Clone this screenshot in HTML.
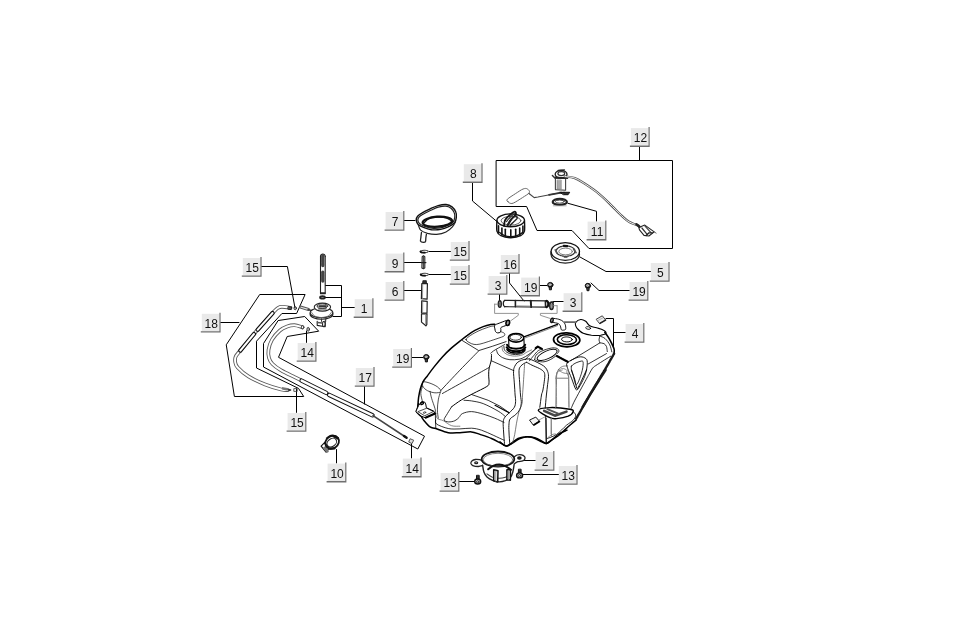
<!DOCTYPE html>
<html><head><meta charset="utf-8"><title>Fuel tank</title>
<style>
html,body{margin:0;padding:0;background:#fff}
body{width:974px;height:620px;overflow:hidden}
svg{display:block}
.lb{will-change:transform}
.n{font-family:"Liberation Sans",sans-serif;font-size:12px;text-anchor:middle;fill:#111}
path,ellipse{stroke-linejoin:round;stroke-linecap:round}
</style></head><body>
<svg width="974" height="620" viewBox="0 0 974 620">
<rect width="974" height="620" fill="#fff"/>
<path d="M261.6 266.5 L287.4 266.5 L295 308" fill="none" stroke="#000" stroke-width="1" stroke-linecap="butt" stroke-linejoin="miter"/>
<path d="M220.6 322.5 L239 322.5" fill="none" stroke="#000" stroke-width="1" stroke-linecap="butt" stroke-linejoin="miter"/>
<path d="M325.4 285.5 L341.5 285.5 L341.5 316.5 L333 316.5" fill="none" stroke="#000" stroke-width="1" stroke-linecap="butt" stroke-linejoin="miter"/>
<path d="M325.4 297.5 L341.4 297.5" fill="none" stroke="#000" stroke-width="1" stroke-linecap="butt" stroke-linejoin="miter"/>
<path d="M341.4 307.5 L354.5 307.5" fill="none" stroke="#000" stroke-width="1" stroke-linecap="butt" stroke-linejoin="miter"/>
<path d="M364.5 386.4 L364.5 404" fill="none" stroke="#000" stroke-width="1" stroke-linecap="butt" stroke-linejoin="miter"/>
<path d="M296.5 389 L296.5 412.4" fill="none" stroke="#000" stroke-width="1" stroke-linecap="butt" stroke-linejoin="miter"/>
<path d="M336.5 449.5 L336.5 463" fill="none" stroke="#000" stroke-width="1" stroke-linecap="butt" stroke-linejoin="miter"/>
<path d="M411.5 443 L411.5 458" fill="none" stroke="#000" stroke-width="1" stroke-linecap="butt" stroke-linejoin="miter"/>
<path d="M459.4 481.5 L475 481.5" fill="none" stroke="#000" stroke-width="1" stroke-linecap="butt" stroke-linejoin="miter"/>
<path d="M524 460.5 L535.4 460.5" fill="none" stroke="#000" stroke-width="1" stroke-linecap="butt" stroke-linejoin="miter"/>
<path d="M522 474.5 L558.6 474.5" fill="none" stroke="#000" stroke-width="1" stroke-linecap="butt" stroke-linejoin="miter"/>
<path d="M429 251.5 L450.6 251.5" fill="none" stroke="#000" stroke-width="1" stroke-linecap="butt" stroke-linejoin="miter"/>
<path d="M404.4 262.5 L422 262.5" fill="none" stroke="#000" stroke-width="1" stroke-linecap="butt" stroke-linejoin="miter"/>
<path d="M429 274.5 L450.6 274.5" fill="none" stroke="#000" stroke-width="1" stroke-linecap="butt" stroke-linejoin="miter"/>
<path d="M404.4 290.5 L421.6 290.5" fill="none" stroke="#000" stroke-width="1" stroke-linecap="butt" stroke-linejoin="miter"/>
<path d="M509.5 273.4 L509.5 283 L524 301" fill="none" stroke="#000" stroke-width="1" stroke-linecap="butt" stroke-linejoin="miter"/>
<path d="M499.5 294.4 L499.5 301" fill="none" stroke="#000" stroke-width="1" stroke-linecap="butt" stroke-linejoin="miter"/>
<path d="M540 285.5 L547 285.5" fill="none" stroke="#000" stroke-width="1" stroke-linecap="butt" stroke-linejoin="miter"/>
<path d="M553 301.5 L563.4 301.5" fill="none" stroke="#000" stroke-width="1" stroke-linecap="butt" stroke-linejoin="miter"/>
<path d="M412 357.5 L423 357.5" fill="none" stroke="#000" stroke-width="1" stroke-linecap="butt" stroke-linejoin="miter"/>
<path d="M472.5 182.6 L472.5 201 L497 221.6" fill="none" stroke="#000" stroke-width="1" stroke-linecap="butt" stroke-linejoin="miter"/>
<path d="M404.4 220.5 L415 220.5" fill="none" stroke="#000" stroke-width="1" stroke-linecap="butt" stroke-linejoin="miter"/>
<path d="M639.5 146.4 L639.5 160.4" fill="none" stroke="#000" stroke-width="1" stroke-linecap="butt" stroke-linejoin="miter"/>
<path d="M568 203.3 L596.5 211.3 L596.5 221.2" fill="none" stroke="#000" stroke-width="1" stroke-linecap="butt" stroke-linejoin="miter"/>
<path d="M579.8 256.9 L606 271.5 L650.6 271.5" fill="none" stroke="#000" stroke-width="1" stroke-linecap="butt" stroke-linejoin="miter"/>
<path d="M591 283 L599 290.5 L629.4 290.5" fill="none" stroke="#000" stroke-width="1" stroke-linecap="butt" stroke-linejoin="miter"/>
<path d="M606 318.5 L613.5 318.5 L613.5 346" fill="none" stroke="#000" stroke-width="1" stroke-linecap="butt" stroke-linejoin="miter"/>
<path d="M613.4 332.5 L625.4 332.5" fill="none" stroke="#000" stroke-width="1" stroke-linecap="butt" stroke-linejoin="miter"/>
<path d="M496.5 160.5 L672.5 160.5 L672.5 248.5 L589 248.5 L572 230.5 L537 230.5 L526.6 206.5 L496.5 206.5Z" fill="none" stroke="#000" stroke-width="1" stroke-linecap="butt" stroke-linejoin="miter"/>
<path d="M417.8 406.8 C417.9 405.2 418.2 400.3 418.6 397.3 C419.1 394.3 419.6 391.6 420.3 389 C421 386.4 421.8 384.1 423 381.8 C424.2 379.6 425.6 378.2 427.5 375.7 C429.3 373.2 431.6 370 434.1 366.9 C436.6 363.7 439.5 360.1 442.4 356.9 C445.3 353.7 448.7 350.5 451.6 347.9 C454.5 345.3 457.3 343.2 459.9 341.1 C462.5 339 464.9 337 467.4 335.3 C469.9 333.5 472.2 331.9 474.9 330.4 C477.5 329 480.5 327.6 483.2 326.6 C485.8 325.7 488.7 325 490.7 324.6 C492.6 324.2 494.1 324.4 494.8 324.3" fill="none" stroke="#000" stroke-width="1.5"/>
<path d="M466 339.4 C466.3 338.2 468.7 336.7 470.7 335.3 C472.7 333.9 475.6 332.4 478.2 331.1 C480.8 329.9 484 328.6 486.5 327.8 C489 326.9 491.5 326.1 493.2 326 C494.8 325.8 495.5 326.4 496.2 327.1 C496.8 327.8 496.1 329.5 496.8 330.3 C497.6 331 499.4 331.1 500.6 331.6 C501.9 332.1 503.7 332.6 504.3 333.3 C504.9 334 505.2 335.1 504.1 335.9 C503.1 336.8 500.8 337.3 498.1 338.3 C495.5 339.2 491.2 340.6 488.2 341.6 C485.1 342.6 482.2 343.6 479.9 344.1 C477.5 344.6 475.8 344.7 474 344.4 C472.2 344.1 470.4 343.3 469 342.4 C467.7 341.6 465.8 340.6 466 339.4Z" fill="none" stroke="#000" stroke-width="0.7"/>
<path d="M462.1 340.4 L478.7 350.6 L492.3 346.3 L506.1 341.6" fill="none" stroke="#000" stroke-width="0.8"/>
<path d="M478.7 350.9 C475.6 354.1 466.2 363.6 459.9 370.2 C453.6 376.8 443.9 387.1 440.8 390.5" fill="none" stroke="#000" stroke-width="0.8"/>
<path d="M488.7 367.7 C485.7 369.4 478.4 373.4 470.7 377.7 C463 382 447.1 390.9 442.4 393.5" fill="none" stroke="#000" stroke-width="0.8"/>
<path d="M423 381.8 C424.1 381.3 427.5 382.3 430 383.2 C432.4 384 435.6 385.5 437.4 386.8 C439.3 388.2 441.3 390.5 440.9 391.5 C440.5 392.5 437.2 393 434.9 392.8 C432.7 392.7 429.5 391.7 427.5 390.7 C425.5 389.6 423.7 388 423 386.5 C422.2 385 421.8 382.4 423 381.8Z" fill="none" stroke="#000" stroke-width="0.7"/>
<path d="M491.5 354.6 C491.4 355.6 491.5 358.5 491.2 360.7 C490.8 362.9 489.6 365.5 489.2 367.9 C488.7 370.2 488.7 372.4 488.7 374.9 C488.6 377.4 489.3 380.9 489 382.8 C488.7 384.8 489.5 384.7 486.8 386.5 C484.2 388.3 477.4 391.3 473.2 393.5 C469 395.7 465.2 397.6 461.6 399.8 C457.9 402 453.2 405.6 451.6 406.8" fill="none" stroke="#000" stroke-width="1"/>
<path d="M491.2 360.7 L513.9 370.7" fill="none" stroke="#000" stroke-width="0.8"/>
<ellipse cx="516.1" cy="337.8" rx="7.7" ry="4.3" fill="none" stroke="#000" stroke-width="1.6"/>
<ellipse cx="515.7" cy="337.3" rx="5.7" ry="2.9" fill="none" stroke="#000" stroke-width="0.8"/>
<path d="M508.6 338.6 L508.9 345.8" fill="none" stroke="#000" stroke-width="1.1"/>
<path d="M523.9 338.6 L524.2 345.8" fill="none" stroke="#000" stroke-width="1.1"/>
<path d="M507 344.8 C507.5 345.2 508.4 347 509.9 347.7 C511.4 348.3 514.1 348.7 516.1 348.7 C518.2 348.7 520.8 348.3 522.3 347.7 C523.8 347 524.7 345.2 525.2 344.8" fill="none" stroke="#000" stroke-width="1.9"/>
<path d="M506.6 347.3 C507.2 347.8 508.3 349.5 509.9 350.1 C511.5 350.8 514.1 351.2 516.1 351.2 C518.2 351.2 520.8 350.8 522.3 350.1 C523.9 349.5 524.9 347.8 525.4 347.3" fill="none" stroke="#000" stroke-width="1.9"/>
<path d="M507 349.7 C507.6 350.1 508.9 351.6 510.4 352.2 C512 352.7 514.2 353 516.1 353 C518 353 520.3 352.7 521.8 352.2 C523.3 351.6 524.5 350.1 525 349.7" fill="none" stroke="#000" stroke-width="1.6"/>
<path d="M503.9 346.3 C504.1 347 503.9 349.2 504.8 350.4 C505.7 351.6 507.6 352.9 509.4 353.5 C511.2 354.2 513.5 354.6 515.6 354.6 C517.7 354.6 520.2 354.1 521.8 353.5 C523.4 352.9 524.6 351.4 525.2 351" fill="none" stroke="#000" stroke-width="0.8"/>
<path d="M490.8 353.2 C491.3 352.9 492.1 351.9 493.4 351 C494.7 350.1 496.7 348.9 498.6 347.9 C500.5 346.8 503.7 345 504.8 344.5" fill="none" stroke="#000" stroke-width="0.8"/>
<path d="M496.5 349.9 C496.8 350.6 497 352.8 498.1 354.1 C499.1 355.3 500.7 356.7 502.7 357.7 C504.7 358.6 507.2 359.5 509.9 359.7 C512.7 360 516.6 359.7 519.2 359.2 C521.8 358.7 523.5 357.7 525.4 356.6 C527.3 355.6 528.8 354.4 530.6 353 C532.3 351.7 534.5 349.6 535.7 348.6 C536.9 347.6 537.4 347.3 537.8 347" fill="none" stroke="#000" stroke-width="0.8"/>
<path d="M502.2 347.3 C502.3 347.9 502.1 349.8 502.9 351 C503.8 352.2 505.4 353.7 507.3 354.6 C509.3 355.4 512.1 356.1 514.6 356.1 C517.1 356.2 520.2 355.6 522.3 354.9 C524.4 354.2 525.4 352.8 527 352 C528.5 351.2 530.8 350.3 531.6 349.9" fill="none" stroke="#555" stroke-width="0.7"/>
<path d="M525.4 359.7 C526.1 359 528 356.7 529.5 355.1 C531.1 353.5 533.3 351.3 534.7 349.9 C536.1 348.6 536.6 347.2 537.8 347 C539 346.9 541.2 348.8 541.9 349.1" fill="none" stroke="#000" stroke-width="0.8"/>
<path d="M529.5 360.8 C530.2 359.9 532.3 357.2 533.7 355.6 C535 354 536.7 351.9 537.8 351 C538.9 350 539.9 349.9 540.4 349.7" fill="none" stroke="#000" stroke-width="0.8"/>
<path d="M535.7 348.1 L537.8 346.6 L541.9 348.9" fill="none" stroke="#000" stroke-width="2.2"/>
<path d="M556.9 356.1 L567.7 361.8" fill="none" stroke="#000" stroke-width="2.2"/>
<ellipse cx="547.1" cy="354.9" rx="10.8" ry="3.9" fill="none" stroke="#000" stroke-width="0.9" transform="rotate(-24 547.1 354.9)"/>
<path d="M534.7 359.7 C535 359 535 356.5 536.2 355.1 C537.4 353.6 539.4 352.1 541.9 351 C544.4 349.8 548.7 348.5 551.2 348.1 C553.7 347.6 555.6 347.9 556.9 348.4 C558.2 348.9 558.9 350.1 558.9 351 C559 351.8 557.7 353.1 557.4 353.5" fill="none" stroke="#000" stroke-width="0.8"/>
<path d="M534.7 359.7 C535.2 360 536.2 360.9 537.8 361.3 C539.3 361.6 541.9 362.1 544 361.8 C546 361.5 548.1 360.8 550.2 359.7 C552.2 358.7 555.3 356.3 556.4 355.6" fill="none" stroke="#000" stroke-width="0.8"/>
<path d="M556.4 384 C556.4 382.6 556 378.1 556.4 375.7 C556.7 373.3 557.4 371.1 558.4 369.5 C559.5 368 561 367 562.6 366.4 C564.1 365.8 566.9 366 567.7 365.9" fill="none" stroke="#555" stroke-width="0.7"/>
<path d="M558.4 369.5 C559.1 370.1 561 371.9 562.6 372.6 C564.1 373.3 566.9 373.5 567.7 373.7" fill="none" stroke="#555" stroke-width="0.7"/>
<ellipse cx="566.7" cy="339.8" rx="13.2" ry="7" fill="none" stroke="#000" stroke-width="1.7" transform="rotate(2 566.7 339.8)"/>
<ellipse cx="566.9" cy="339.6" rx="9.6" ry="4.9" fill="none" stroke="#000" stroke-width="1.6" transform="rotate(2 566.9 339.6)"/>
<ellipse cx="566.9" cy="339.4" rx="5.4" ry="2.5" fill="none" stroke="#000" stroke-width="0.9" transform="rotate(2 566.9 339.4)"/>
<path d="M524.6 336.7 L557.4 324.3" fill="none" stroke="#000" stroke-width="1.3"/>
<path d="M525.4 337.8 L557.6 325.6" fill="none" stroke="#555" stroke-width="0.7"/>
<path d="M505.8 320.7 C504.7 321.1 501.1 322.4 499.2 323.2 C497.4 323.9 495.4 324.4 494.7 325.4 C494 326.3 494.8 327.9 494.9 328.9 C495.1 329.9 495.1 330.9 495.5 331.5 C495.9 332.2 496.7 332.8 497.6 332.9 C498.4 333 499.9 332.7 500.4 332.2 C501 331.7 500.8 330.5 500.9 329.7 C500.9 329 500.4 328.3 500.9 327.7 C501.3 327.1 502.7 326.7 503.7 326.3 C504.7 325.9 506.3 325.4 506.8 325.2" fill="#fff" stroke="#000" stroke-width="1"/>
<ellipse cx="507.8" cy="322.9" rx="1.7" ry="2.5" fill="#fff" stroke="#000" stroke-width="1.7" transform="rotate(12 507.8 322.9)"/>
<ellipse cx="507.9" cy="323" rx="0.7" ry="1.3" fill="none" stroke="#666" stroke-width="0.7" transform="rotate(12 507.9 323)"/>
<path d="M553 318.3 C554 318.5 557.2 318.7 558.9 319.3 C560.6 319.8 562.2 320.6 563.2 321.5 C564.3 322.4 564.9 323.6 565.3 324.8 C565.7 326.1 565.9 328.3 565.7 329.1 C565.4 330 564.6 330 563.8 330.1 C563.1 330.2 562 330.4 561.4 329.8 C560.8 329.1 560.9 327.1 560.4 326.1 C559.9 325 559.5 324.2 558.3 323.6 C557.1 323 553.9 322.6 553 322.4" fill="none" stroke="#000" stroke-width="0.9"/>
<ellipse cx="551.9" cy="320.3" rx="1.2" ry="2.1" fill="#fff" stroke="#111" stroke-width="1.6" transform="rotate(10 551.9 320.3)"/>
<path d="M575.7 322.5 C576.5 321.4 579 319.7 580.7 319.5 C582.3 319.3 584.1 320.2 585.7 321.3 C587.2 322.4 588 324.7 589.8 325.8 C591.6 326.9 594.3 327.1 596.5 327.8 C598.7 328.5 601.5 329 603.1 330 C604.7 330.9 606.4 332.4 606 333.3 C605.5 334.2 603 334.9 600.6 335.3 C598.2 335.6 594.4 335.6 591.5 335.3 C588.6 334.9 585.4 334.2 583.2 333.3 C580.9 332.3 579.4 330.7 578.2 329.5 C576.9 328.2 576.1 327 575.7 325.8 C575.3 324.6 574.9 323.5 575.7 322.5Z" fill="none" stroke="#000" stroke-width="1.1"/>
<ellipse cx="588.2" cy="328" rx="2.5" ry="1.3" fill="none" stroke="#000" stroke-width="0.8" transform="rotate(10 588.2 328)"/>
<path d="M564.5 322.1 L575.7 322.1" fill="none" stroke="#666" stroke-width="1.8"/>
<path d="M604.8 332.4 C605.4 333.3 607.3 335.6 608.4 337.4 C609.6 339.3 610.8 341.6 611.8 343.6 C612.7 345.5 613.7 347.4 614.1 349.1 C614.5 350.7 614.1 352.8 614.1 353.6" fill="none" stroke="#000" stroke-width="1.6"/>
<path d="M599.8 336.1 C600.7 336.5 603.5 337.1 605.1 338.6 C606.8 340.1 608.7 342.7 609.8 344.9 C610.9 347.1 611.4 350.7 611.8 351.9" fill="none" stroke="#000" stroke-width="0.8"/>
<path d="M599.8 336.1 C599.7 336.7 599 338.9 599 339.9 C599 341 599.7 342 599.8 342.4" fill="none" stroke="#000" stroke-width="0.8"/>
<path d="M614.1 353.6 L606.5 366.9 L596.5 383.5 L582.7 406.8" fill="none" stroke="#1a1a1a" stroke-width="2.4" stroke-dasharray="1 0.8" stroke-linecap="butt"/>
<path d="M570.7 360.7 L599.8 342.9" fill="none" stroke="#000" stroke-width="0.8"/>
<path d="M599.8 342.9 C600.5 343 602.8 343 604 343.6 C605.1 344.2 605.9 345.3 606.5 346.6 C607 347.9 607.1 350.7 607.3 351.6" fill="none" stroke="#000" stroke-width="0.8"/>
<path d="M588.2 364 L606.5 353.6" fill="none" stroke="#000" stroke-width="0.8"/>
<path d="M566.5 361.2 L556.9 355.2" fill="none" stroke="#000" stroke-width="0.8"/>
<path d="M567.4 362.7 C569.1 360.8 575.3 358 578.2 357.2 C581.1 356.4 583.3 357 584.8 357.9 C586.4 358.8 587.3 359.6 587.3 362.4 C587.4 365.2 586.6 370.6 585.2 374.9 C583.7 379.2 580.1 385.8 578.5 388.2 C576.9 390.5 576.8 390.7 575.7 389 C574.5 387.3 572.9 381.6 571.5 378.2 C570.2 374.8 568.4 371.1 567.7 368.5 C567 366 565.6 364.6 567.4 362.7Z" fill="none" stroke="#000" stroke-width="0.9"/>
<path d="M571.5 366 C572.8 363.5 579.2 361.5 581.2 361.1 C583.1 360.6 583.1 361.5 583.2 363.5 C583.2 365.6 582.6 369.6 581.5 373.2 C580.4 376.7 577.8 384.3 576.5 384.8 C575.2 385.4 574.4 379.7 573.5 376.5 C572.7 373.4 570.2 368.6 571.5 366Z" fill="none" stroke="#000" stroke-width="0.8"/>
<path d="M556.6 406.8 C556.6 401.8 556.3 382.5 556.6 376.5 C556.8 370.6 557.2 372.4 558.2 371 C559.2 369.7 561 368.7 562.4 368.5 C563.8 368.4 565.5 369.1 566.5 370.2 C567.6 371.3 568.1 368.8 568.5 374.9 C568.9 381 568.8 401.5 568.9 406.8" fill="none" stroke="#777" stroke-width="0.8"/>
<path d="M556.9 378.2 L568.5 378.2" fill="none" stroke="#888" stroke-width="0.7"/>
<path d="M418.6 403.3 C418.4 404.2 417.4 407.6 417 409.1 C416.6 410.5 416 410.9 416.3 411.9 C416.7 412.9 418.3 414.1 419.1 414.9 C420 415.7 421.2 416.6 421.6 416.9" fill="none" stroke="#000" stroke-width="1.1"/>
<path d="M416.1 410.9 L418.6 405.5 L421.4 401.8 L424.7 402.1 L425.7 403.9 L426.4 407.8 L433.8 411.1 L434.8 413.6 L425.6 417.9 L421.4 416.2 L416.3 412.1Z" fill="#fff" stroke="#000" stroke-width="1"/>
<path d="M418.2 411.5 L426.8 408.2 L433.4 411.5 L425.1 415.6Z" fill="none" stroke="#000" stroke-width="0.7"/>
<ellipse cx="424.5" cy="412.6" rx="1.3" ry="0.7" fill="none" stroke="#333" stroke-width="0.8" transform="rotate(-15 424.5 412.6)"/>
<path d="M426 417.5 L435 413.6" fill="none" stroke="#000" stroke-width="2.2"/>
<ellipse cx="422.1" cy="403.3" rx="1.5" ry="1" fill="none" stroke="#000" stroke-width="1.4" transform="rotate(-30 422.1 403.3)"/>
<path d="M421.6 416.9 C422 417.5 422.7 419.1 424.1 420.7 C425.5 422.4 428 425.6 430 426.9 C431.9 428.2 432.7 427.6 435.8 428.5 C438.8 429.5 444.2 432 448.2 432.7 C452.3 433.4 456 432.8 459.9 432.7 C463.8 432.6 468.2 431.6 471.5 431.9 C474.9 432.2 476.5 433.3 479.9 434.4 C483.2 435.5 487.9 437 491.5 438.5 C495.1 440.1 499 442.3 501.5 443.5 C504 444.8 505.1 445.9 506.5 446 C507.8 446.2 507.8 445.6 509.8 444.4 C511.7 443.1 515.6 439.8 518.1 438.5 C520.6 437.3 522 437 524.8 436.9 C527.5 436.7 531.7 436.9 534.7 437.7 C537.8 438.5 541.1 440.9 543.1 441.9 C545 442.8 545 443.8 546.4 443.5 C547.8 443.2 549.2 441.9 551.4 440.2 C553.6 438.5 557.1 435.2 559.7 433.5 C562.3 431.9 565.8 430.8 567 430.2" fill="none" stroke="#000" stroke-width="1.5"/>
<path d="M435.8 419.9 C435.9 420.6 434.5 422.6 436.6 424.1 C438.7 425.5 444.4 427.7 448.2 428.5 C452.1 429.4 456 428.9 459.9 428.9 C463.8 428.8 467.9 428 471.5 428.2 C475.1 428.4 477.9 429 481.5 430.2 C485.1 431.4 489.4 433.5 493.2 435.2 C496.9 436.9 502.2 439.4 504 440.2" fill="none" stroke="#000" stroke-width="0.8"/>
<path d="M435.8 413.6 C436 414.4 436.2 417.4 437.4 418.6 C438.7 419.8 440.9 419.5 443.3 420.7 C445.6 421.9 448.8 424.8 451.6 425.7 C454.3 426.6 458.5 426.1 459.9 426.2" fill="none" stroke="#555" stroke-width="0.7"/>
<path d="M435.3 413.6 L435.8 428.5" fill="none" stroke="#000" stroke-width="0.8"/>
<path d="M444.1 419.9 C445.1 418.2 447.3 413.1 449.9 409.9 C452.5 406.7 456.3 403.4 459.9 400.8 C463.5 398.1 467.1 396.3 471.5 394.1 C476 391.9 484 388.6 486.5 387.5" fill="none" stroke="#000" stroke-width="0"/>
<path d="M451.6 406.8 C450.9 407.9 448.7 411.4 447.4 413.6 C446.2 415.8 443.9 418.5 444.1 419.9 C444.3 421.3 446.8 421.8 448.6 421.9 C450.4 422 453.2 421.5 454.9 420.7 C456.6 420 457.8 418.6 459.1 417.4 C460.3 416.2 460.3 414.5 462.4 413.6 C464.5 412.6 468.1 411.5 471.5 411.6 C475 411.7 479.3 413 483.2 414.1 C487.1 415.2 491.4 416.9 494.8 418.2 C498.3 419.6 502.4 421.7 504 422.4" fill="none" stroke="#000" stroke-width="0.8"/>
<path d="M471.5 394.5 L488.2 400.3 L499.8 406.1 L509.3 412.7" fill="none" stroke="#000" stroke-width="0.8"/>
<path d="M464 400.3 C465.3 400.4 468.3 400.4 471.5 400.9 C474.7 401.5 478.7 401.9 483.2 403.6 C487.6 405.3 494.5 409 498.1 411.1 C501.8 413.2 503.7 415.2 504.8 416.1" fill="none" stroke="#000" stroke-width="0.8"/>
<path d="M422.5 386.5 C422.2 387.6 420.8 390.8 420.8 393.3 C420.8 395.8 422.2 400.2 422.5 401.6" fill="none" stroke="#000" stroke-width="0.7"/>
<path d="M430 391.3 C430.2 392.5 430.8 395.4 431.6 398.3 C432.4 401.1 434.2 405.7 434.9 408.3 C435.6 410.8 435.6 412.7 435.8 413.6" fill="none" stroke="#000" stroke-width="0.7"/>
<path d="M440.3 392.5 C439.9 393.7 438.7 397 438.3 399.9 C437.8 402.9 437.4 406.9 437.4 409.9 C437.4 413 438.1 416.9 438.3 418.2" fill="none" stroke="#000" stroke-width="0.7"/>
<path d="M605.6 370 L589.8 395 L576.2 418.6" fill="none" stroke="#1a1a1a" stroke-width="2.4" stroke-dasharray="1 0.8" stroke-linecap="butt"/>
<path d="M538.3 410.3 C538.3 408.6 544.6 407.8 549.9 407.6 C555.2 407.4 566 408.6 569.9 409.3 C573.7 409.9 573.5 410.4 573.2 411.6 C572.9 412.7 571 414.9 568.2 416.1 C565.4 417.2 559.6 418.3 556.6 418.6 C553.5 418.8 552.9 419.1 549.9 417.7 C546.9 416.4 538.3 411.9 538.3 410.3Z" fill="none" stroke="#000" stroke-width="1.4"/>
<path d="M544.1 410.8 L554.9 415.7 L566.5 411.6" fill="none" stroke="#444" stroke-width="2.5"/>
<path d="M547.4 409.1 L558.2 413.6" fill="none" stroke="#555" stroke-width="2"/>
<path d="M500 441.9 C501.1 442.5 503.6 446.4 506.7 446 C509.7 445.6 515.2 440.9 518.3 439.4 C521.3 437.8 522.5 437.1 525 436.9 C527.4 436.6 530.5 436.9 533.3 437.7 C536 438.5 539.4 440.9 541.6 441.9 C543.8 442.8 544.9 443.8 546.6 443.5 C548.2 443.2 549.3 441.7 551.6 440.2 C553.8 438.7 556.8 436.9 559.9 434.4 C562.9 431.9 567.1 427.6 569.9 425.2 C572.6 422.8 575.1 420.8 576.2 419.9" fill="none" stroke="#000" stroke-width="1.5"/>
<path d="M547.4 438.5 C548.9 437.8 553.4 436.6 556.6 434.4 C559.7 432.2 563.8 427.6 566.5 425.2 C569.3 422.9 571.7 421.9 573.2 420.2 C574.7 418.6 575.7 416.7 575.7 415.2 C575.7 413.8 573.6 412.2 573.2 411.6" fill="none" stroke="#000" stroke-width="0.8"/>
<path d="M547.4 438.5 C547.8 438.1 548.7 436.5 549.9 435.7 C551.1 435 553.5 434 554.9 434 C556.3 434 557.7 435.4 558.2 435.7" fill="none" stroke="#555" stroke-width="0.7"/>
<path d="M546.6 443.5 L546.2 418.2" fill="none" stroke="#000" stroke-width="0.8"/>
<path d="M551.6 436.5 L551.2 418.2" fill="none" stroke="#555" stroke-width="0.7"/>
<path d="M555.7 408.3 L556.1 378.3" fill="none" stroke="#777" stroke-width="0.8"/>
<path d="M569 407.9 L568.7 376.7" fill="none" stroke="#777" stroke-width="0.8"/>
<path d="M555.7 378.3 C556 377.3 556.3 373.9 557.4 372.5 C558.5 371.1 561.5 370.4 562.4 370" fill="none" stroke="#777" stroke-width="0.8"/>
<path d="M568.5 376.7 L566.5 371.7" fill="none" stroke="#777" stroke-width="0.8"/>
<path d="M556.6 378.3 L568.5 378.3" fill="none" stroke="#888" stroke-width="0.7"/>
<path d="M529.9 419.9 L535.8 417.1 L539.4 421.2 L533.6 424.9Z" fill="#f4f4f4" stroke="#000" stroke-width="0.9"/>
<path d="M533.9 424.9 L539.4 421.6" fill="none" stroke="#000" stroke-width="1.8"/>
<path d="M539.1 419.9 L544.9 416.9" fill="none" stroke="#555" stroke-width="0.6"/>
<path d="M571.5 370 C572.1 371.7 574 376.9 574.9 380 C575.7 383 576.2 387.3 576.8 388.3 C577.5 389.3 577.4 388.9 579 385.8 C580.6 382.8 585.2 372.6 586.5 370" fill="none" stroke="#000" stroke-width="0.9"/>
<path d="M529.5 359 C529 359 527.6 358.8 526.2 359 C524.9 359.3 522.8 359.7 521.3 360.3 C519.8 360.9 518.3 361.7 517.2 362.7 C516.1 363.8 515.4 365 514.7 366.4 C514.1 367.9 513.6 368.6 513.5 371.4 C513.4 374.1 514.1 379 514.3 382.9 C514.6 386.8 514.9 391.9 515.1 395 C515.4 398.1 515.7 399.5 515.6 401.6 C515.4 403.6 515.4 405.5 514.3 407.3 C513.3 409.2 511 411 509.4 412.7 C507.8 414.3 505.9 415.6 504.9 417.2 C503.8 418.8 503.4 419.7 503.2 422.1 C503 424.6 503.4 428.4 503.6 432 C503.8 435.6 504.3 441.3 504.5 443.5 C504.7 445.8 504.8 445.2 504.9 445.6" fill="none" stroke="#000" stroke-width="0.9"/>
<path d="M526.7 362.3 C526.2 362.5 524.8 362.9 523.8 363.6 C522.8 364.3 521.3 365.3 520.5 366.4 C519.7 367.6 519.2 367.8 519 370.6 C518.9 373.3 519.4 378.8 519.7 382.9 C519.9 387 520.2 391.6 520.5 395 C520.8 398.4 521.5 400.8 521.3 403.2 C521.2 405.7 520.6 407.9 519.7 409.8 C518.7 411.7 517.1 413.2 515.6 414.7 C514 416.2 511.3 417.3 510.2 418.8 C509.1 420.4 509.2 421.6 509 423.8 C508.8 426 508.8 428.6 509 432 C509.1 435.4 509.7 442.3 509.8 444.3" fill="none" stroke="#000" stroke-width="0.9"/>
<path d="M524.6 364 C524.5 365.1 524.4 367.4 524.2 370.6 C524 373.7 523.6 378.8 523.4 382.9 C523.1 387 522.8 391.6 522.5 395 C522.3 398.4 522.8 400.3 522.1 403.2 C521.5 406.1 519.8 408.8 518.8 412.3 C517.9 415.7 517.1 420.1 516.4 423.8 C515.7 427.5 515.4 431.3 514.7 434.5 C514.1 437.6 513 441.3 512.7 442.7" fill="none" stroke="#444" stroke-width="0.7"/>
<path d="M529.5 359 C530.4 359.4 532.6 360.2 534.5 361.1 C536.4 362 539.3 363.4 541.1 364.4 C542.8 365.4 544.1 366.1 545.2 367.3 C546.3 368.4 547.1 369.9 547.6 371.4 C548.2 372.9 548.5 374.1 548.5 376.3 C548.5 378.5 548 381.4 547.6 384.5 C547.3 387.7 546.8 391.1 546.4 395 C546 398.9 545.4 406 545.2 408.2" fill="none" stroke="#000" stroke-width="0.9"/>
<path d="M526.7 362.3 C527.6 362.8 529.9 364.2 532 365.2 C534.1 366.2 537.5 367.5 539.4 368.5 C541.3 369.5 542.6 370.4 543.5 371.4 C544.4 372.4 544.6 373 544.8 374.7 C544.9 376.3 544.7 378.5 544.3 381.2 C544 384 543.2 388.8 542.7 391.1 C542.2 393.4 541.9 392.3 541.5 395 C541 397.7 540.1 405.3 539.8 407.3" fill="none" stroke="#000" stroke-width="0.9"/>
<path d="M610.7 356.2 C608.5 357.5 600.6 362.4 597.6 364.4 C594.6 366.4 594 366.5 592.6 368.1 C591.3 369.7 590.4 371.9 589.3 373.8 C588.2 375.8 588.5 375.1 586.1 379.6 C583.6 384.1 577 396.2 574.5 401 C572.1 405.8 571.8 407.2 571.2 408.4" fill="none" stroke="#000" stroke-width="0.8"/>
<path d="M495 405.3 L509 412.7" fill="none" stroke="#000" stroke-width="1.1"/>
<path d="M545.6 415.6 L546 443.5" fill="none" stroke="#000" stroke-width="0.8"/>
<path d="M551.3 418 L550.9 433.7" fill="none" stroke="#777" stroke-width="0.7"/>
<path d="M260.1 294.5 L305.1 294.5 L296.6 313.5 L281.9 313.5 L256.5 341.2 L256.5 368 L298.5 388.4 L303.7 396.5 L234.4 396.5 L226.3 345.2Z" fill="none" stroke="#000" stroke-width="1" stroke-linecap="butt" stroke-linejoin="miter"/>
<path d="M278.5 320.5 L304.7 316.5 L318.7 331.2 L287.2 336.5 L278.5 357.3 L424.5 436.2 L417.8 449 L263.5 367 L263.5 343.9Z" fill="none" stroke="#000" stroke-width="1" stroke-linecap="butt" stroke-linejoin="miter"/>
<path d="M290.6 307.8 C289.2 307.6 284 306.8 281.9 306.8 C279.8 306.8 279.3 307.1 277.9 308 C276.4 308.9 276.7 308.7 273.2 312.4 C269.7 316.1 260.3 326.5 257.1 330.2 C253.9 333.9 256.7 330.8 253.8 334.3 C250.9 337.8 242.7 347.6 239.7 351.3 C236.7 355 236.4 354.8 235.7 356.6 C234.9 358.4 234.9 360.2 235.2 362 C235.5 363.8 235.5 365.1 237.7 367.5 C239.9 369.9 243.8 373.6 248.4 376.4 C253 379.2 259.7 382.3 265.2 384.5 C270.7 386.7 277.4 388.6 281.2 389.5 C285 390.4 286.8 390 287.9 390.1" fill="none" stroke="#5a5a5a" stroke-width="3.7" stroke-linecap="butt"/>
<path d="M290.6 307.8 C289.2 307.6 284 306.8 281.9 306.8 C279.8 306.8 279.3 307.1 277.9 308 C276.4 308.9 276.7 308.7 273.2 312.4 C269.7 316.1 260.3 326.5 257.1 330.2 C253.9 333.9 256.7 330.8 253.8 334.3 C250.9 337.8 242.7 347.6 239.7 351.3 C236.7 355 236.4 354.8 235.7 356.6 C234.9 358.4 234.9 360.2 235.2 362 C235.5 363.8 235.5 365.1 237.7 367.5 C239.9 369.9 243.8 373.6 248.4 376.4 C253 379.2 259.7 382.3 265.2 384.5 C270.7 386.7 277.4 388.6 281.2 389.5 C285 390.4 286.8 390 287.9 390.1" fill="none" stroke="#fff" stroke-width="1.9" stroke-linecap="butt"/>
<path d="M272.6 313 L257.6 329.8" fill="none" stroke="#111" stroke-width="4.2"/>
<path d="M272.6 313 L257.6 329.8" fill="none" stroke="#fff" stroke-width="2"/>
<path d="M254 334 L240.3 350.6" fill="none" stroke="#111" stroke-width="4.2"/>
<path d="M254 334 L240.3 350.6" fill="none" stroke="#fff" stroke-width="2"/>
<path d="M302.4 327.2 C301.1 326.9 297.1 325.3 294.6 325.2 C292.1 325.1 289.6 325.6 287.2 326.5 C284.8 327.4 282.4 328.3 279.9 330.5 C277.4 332.7 274 336.4 272.1 339.6 C270.2 342.8 269 346.8 268.5 349.9 C268 353 268.3 355.6 269 358 C269.7 360.4 270.5 361.9 272.5 364 C274.5 366.1 277.5 368.2 281.2 370.4 C284.9 372.6 291.4 375.5 294.6 377.1 C297.8 378.7 299.6 379.7 300.6 380.2" fill="none" stroke="#5a5a5a" stroke-width="3.7" stroke-linecap="butt"/>
<path d="M302.4 327.2 C301.1 326.9 297.1 325.3 294.6 325.2 C292.1 325.1 289.6 325.6 287.2 326.5 C284.8 327.4 282.4 328.3 279.9 330.5 C277.4 332.7 274 336.4 272.1 339.6 C270.2 342.8 269 346.8 268.5 349.9 C268 353 268.3 355.6 269 358 C269.7 360.4 270.5 361.9 272.5 364 C274.5 366.1 277.5 368.2 281.2 370.4 C284.9 372.6 291.4 375.5 294.6 377.1 C297.8 378.7 299.6 379.7 300.6 380.2" fill="none" stroke="#fff" stroke-width="1.9" stroke-linecap="butt"/>
<path d="M301.6 380.6 L326.2 392.9" fill="none" stroke="#111" stroke-width="4.4"/>
<path d="M301.6 380.6 L326.2 392.9" fill="none" stroke="#fff" stroke-width="2.4"/>
<path d="M329.2 394.9 L372.5 415.3" fill="none" stroke="#111" stroke-width="4.4"/>
<path d="M329.2 394.9 L372.5 415.3" fill="none" stroke="#fff" stroke-width="2.4"/>
<path d="M373 415.6 L405.5 437" fill="none" stroke="#444" stroke-width="1.6"/>
<path d="M404 436 L406.6 437.8" fill="none" stroke="#111" stroke-width="2.4"/>
<path d="M288.5 306.6 L291.6 307 L291.2 309.6 L288.2 309.2Z" fill="#555" stroke="#222" stroke-width="1"/>
<ellipse cx="295.2" cy="308.2" rx="1.2" ry="1.6" fill="none" stroke="#222" stroke-width="0.9"/>
<path d="M300.5 307 L308.5 309.5" fill="none" stroke="#555" stroke-width="3"/>
<path d="M301 307.2 L308 309.4" fill="none" stroke="#ddd" stroke-width="1.2"/>
<path d="M308 309.5 L313 311" fill="none" stroke="#444" stroke-width="1.5"/>
<ellipse cx="302.6" cy="327.3" rx="1.3" ry="1.9" fill="none" stroke="#444" stroke-width="0.9" transform="rotate(10 302.6 327.3)"/>
<ellipse cx="308.2" cy="329.3" rx="1.3" ry="1.9" fill="#bbb" stroke="#333" stroke-width="0.9"/>
<path d="M283 388.4 L287 389.2" fill="none" stroke="#777" stroke-width="2.6"/>
<path d="M288.5 390 L290.5 390" fill="none" stroke="#111" stroke-width="1.6"/>
<path d="M294.2 388.6 L297.2 388.6 L297.2 391.4 L294.2 391.4Z" fill="none" stroke="#333" stroke-width="0.8"/>
<path d="M410.4 438.9 L413.7 440.2 L412 443.6 L409.1 442.2Z" fill="#ddd" stroke="#555" stroke-width="1"/>
<path d="M320.5 256 L320.5 293.7 L325.2 293.7 L325.2 256" fill="none" stroke="#222" stroke-width="1.1"/>
<path d="M320.5 256.3 C320.6 256.1 320.8 255 321.2 254.6 C321.6 254.3 322.2 254.1 322.8 254.1 C323.3 254.1 324.1 254.3 324.5 254.6 C324.9 255 325 256.1 325.2 256.3" fill="none" stroke="#222" stroke-width="1.1"/>
<path d="M322.8 255.6 L322.8 265.6" fill="none" stroke="#444" stroke-width="3.4" stroke-dasharray="0.9 0.5" stroke-linecap="butt"/>
<path d="M322.8 272.2 L322.8 281.1" fill="none" stroke="#444" stroke-width="3.4" stroke-dasharray="0.9 0.5" stroke-linecap="butt"/>
<path d="M320.9 293.1 L324.9 293.1" fill="none" stroke="#222" stroke-width="1.6"/>
<ellipse cx="322.5" cy="297.4" rx="2.5" ry="1.2" fill="#999" stroke="#222" stroke-width="1.7"/>
<ellipse cx="321.5" cy="314.3" rx="11.4" ry="5" fill="#fff" stroke="#222" stroke-width="1.1"/>
<ellipse cx="321.5" cy="312.7" rx="11.4" ry="5" fill="#fff" stroke="#222" stroke-width="1.1"/>
<path d="M311.5 312.2 C312.1 312.8 313.2 315.3 314.8 316.1 C316.5 317 319.3 317.5 321.5 317.5 C323.7 317.5 326.4 317 328.1 316.1 C329.7 315.3 330.8 312.8 331.4 312.2" fill="none" stroke="#666" stroke-width="0.8"/>
<ellipse cx="322.4" cy="307.1" rx="8.2" ry="4" fill="#fff" stroke="#222" stroke-width="1.1"/>
<ellipse cx="322.4" cy="306.1" rx="5.3" ry="2.4" fill="#ccc" stroke="#333" stroke-width="1"/>
<path d="M319.5 306.2 L325.7 306.2" fill="none" stroke="#333" stroke-width="2"/>
<path d="M318.8 308.9 L326.1 308.9" fill="none" stroke="#444" stroke-width="1.3"/>
<path d="M317.2 321.4 L317.2 325.4 L325.2 326.7 L325.2 320.8" fill="#fff" stroke="#222" stroke-width="1.1"/>
<ellipse cx="323.8" cy="324.1" rx="1.3" ry="2.6" fill="#fff" stroke="#222" stroke-width="1.1"/>
<path d="M317.5 322.5 L322.1 323" fill="none" stroke="#555" stroke-width="1.4"/>
<path d="M321.5 318.8 L321.5 321.4" fill="none" stroke="#333" stroke-width="1"/>
<path d="M325.7 318.8 L325.7 321.4" fill="none" stroke="#333" stroke-width="1"/>
<path d="M306.5 331 L306.5 342.4" fill="none" stroke="#000" stroke-width="1" stroke-linecap="butt" stroke-linejoin="miter"/>
<path d="M416.2 220.1 C416.1 218.8 416.6 217.4 417.6 216.2 C418.6 215 420.1 214.1 422.2 212.9 C424.3 211.6 427.5 210.1 430.1 208.9 C432.8 207.7 435.4 206.3 438.1 205.6 C440.7 204.9 443.7 204.3 446 204.5 C448.3 204.7 450.3 205.6 452 206.9 C453.6 208.2 455.2 210.4 455.9 212.2 C456.7 214 456.5 215.7 456.3 217.5 C456.1 219.3 455.9 221.2 454.6 222.8 C453.3 224.3 451 225.6 448.7 226.7 C446.3 227.8 443.6 228.9 440.7 229.4 C437.8 229.9 434.3 230 431.5 229.7 C428.6 229.3 425.7 228.3 423.5 227.4 C421.3 226.5 419.4 225.6 418.2 224.4 C417 223.2 416.4 221.5 416.2 220.1Z" fill="none" stroke="#111" stroke-width="1.4"/>
<path d="M417.8 220.1 C417.8 219 418.2 217.9 419.2 216.8 C420.1 215.8 421.6 215 423.5 213.9 C425.5 212.8 428.3 211.5 430.8 210.3 C433.3 209.2 435.8 207.9 438.3 207.2 C440.8 206.5 443.6 205.9 445.7 206.1 C447.9 206.3 449.6 207.1 451 208.2 C452.5 209.4 453.7 211.3 454.3 212.9 C455 214.4 454.9 216 454.7 217.5 C454.5 219 454.3 220.7 453.1 222 C452 223.3 449.8 224.4 447.6 225.4 C445.4 226.4 442.8 227.5 440.2 227.9 C437.5 228.4 434.4 228.5 431.7 228.2 C429.1 227.9 426.3 227 424.3 226.2 C422.3 225.4 420.6 224.6 419.6 223.6 C418.5 222.6 417.9 221.3 417.8 220.1Z" fill="none" stroke="#222" stroke-width="1.2"/>
<ellipse cx="437.4" cy="221.7" rx="14.8" ry="5" fill="none" stroke="#111" stroke-width="2.2" transform="rotate(-4 437.4 221.7)"/>
<path d="M423.5 223.4 C424.4 222.7 426.5 219.8 428.8 218.8 C431.1 217.8 434.5 217.4 437.4 217.2 C440.3 217 443.7 217.2 446 217.8 C448.3 218.3 450.4 220.3 451.3 220.8" fill="none" stroke="#111" stroke-width="1.2"/>
<path d="M418.2 224.8 C418.6 225.6 419.1 228.6 420.6 230.1 C422.2 231.5 424.8 232.6 427.5 233.4 C430.2 234.1 433.7 234.6 436.7 234.4 C439.8 234.2 443.4 233.3 446 232 C448.7 230.8 451.1 228.4 452.6 226.7 C454.2 225.1 454.8 222.9 455.3 222.1" fill="none" stroke="#222" stroke-width="1.2"/>
<path d="M421.5 232.3 C421.4 233.1 421 235.8 420.9 237.3 C420.7 238.8 420.2 240.5 420.6 241.3 C421 242.1 422.4 242.3 423.3 242.4 C424.1 242.4 425.1 242.4 425.5 241.6 C425.9 240.7 425.7 238.5 425.9 237.3 C426.1 236.1 426.3 234.9 426.4 234.4" fill="none" stroke="#222" stroke-width="1.3"/>
<ellipse cx="424.2" cy="251.5" rx="4" ry="1.3" fill="none" stroke="#444" stroke-width="1" transform="rotate(-3 424.2 251.5)"/>
<path d="M420.5 251.5 C420.8 251.7 421.5 252.3 422.2 252.5 C422.9 252.7 424.4 252.6 424.8 252.7" fill="none" stroke="#111" stroke-width="1.8"/>
<ellipse cx="424.4" cy="274.5" rx="4" ry="1.3" fill="none" stroke="#444" stroke-width="1" transform="rotate(-3 424.4 274.5)"/>
<path d="M420.7 274.5 C421 274.6 421.7 275.3 422.5 275.5 C423.2 275.7 424.7 275.6 425.1 275.7" fill="none" stroke="#111" stroke-width="1.8"/>
<path d="M422.2 256.6 L421.9 267.9 L423.5 268.8 L424.8 267.9 L424.8 256.6 L423.5 255.8Z" fill="none" stroke="#222" stroke-width="1.1"/>
<path d="M423.4 256.6 L423.4 268.3" fill="none" stroke="#333" stroke-width="1"/>
<path d="M421.5 262.6 L425.9 262.6" fill="none" stroke="#222" stroke-width="1.2"/>
<path d="M423 280.7 L426.2 280.7 L426.4 283.3 L422.7 283.3Z" fill="#333" stroke="#222" stroke-width="1.1"/>
<path d="M421.8 283.7 L421.4 298.7 L427.1 299.2 L427.4 283.7Z" fill="none" stroke="#222" stroke-width="1.2"/>
<path d="M421.7 300.9 L421.5 312.8 L427 313.2 L427.2 301.3Z" fill="none" stroke="#222" stroke-width="1.2"/>
<path d="M421.5 313.8 L421.5 322.1 L425.9 325.8 L426.8 324.7 L427 314Z" fill="none" stroke="#222" stroke-width="1.2"/>
<path d="M422.7 284.4 L422.5 298.3" fill="none" stroke="#888" stroke-width="0.8"/>
<path d="M422.7 301.6 L422.6 312.2" fill="none" stroke="#888" stroke-width="0.8"/>
<path d="M425.5 314.8 L425.5 324.1" fill="none" stroke="#888" stroke-width="0.8"/>
<path d="M496.9 220.9 C496.9 222.7 496.3 229 497 231.4 C497.7 233.9 498.6 234.7 500.9 235.7 C503.2 236.8 507.5 237.7 510.8 237.7 C514.1 237.7 518.4 236.8 520.7 235.7 C522.9 234.7 523.7 233.9 524.4 231.4 C525 229 524.5 222.7 524.5 220.9" fill="none" stroke="#111" stroke-width="1.4"/>
<ellipse cx="510.7" cy="220.3" rx="13.8" ry="6.4" fill="none" stroke="#111" stroke-width="1.4"/>
<ellipse cx="511" cy="220.7" rx="9.9" ry="4.4" fill="none" stroke="#555" stroke-width="0.9"/>
<path d="M498.5 225.9 L498.5 233" fill="none" stroke="#111" stroke-width="1.6"/>
<path d="M501.9 228.1 L501.9 235.1" fill="none" stroke="#111" stroke-width="1.6"/>
<path d="M505.3 229.3 L505.3 236.3" fill="none" stroke="#111" stroke-width="1.6"/>
<path d="M510.8 229.9 L510.8 237" fill="none" stroke="#111" stroke-width="1.6"/>
<path d="M515.7 229.3 L515.7 236.5" fill="none" stroke="#111" stroke-width="1.6"/>
<path d="M519.7 228.1 L519.7 235.1" fill="none" stroke="#111" stroke-width="1.6"/>
<path d="M522.9 226.1 L522.9 233" fill="none" stroke="#111" stroke-width="1.6"/>
<path d="M499.7 232.6 C500.5 233.2 502.8 235 504.6 235.7 C506.5 236.4 508.7 236.7 510.8 236.7 C512.9 236.7 515 236.4 517 235.7 C518.9 235 521.6 233.2 522.5 232.6" fill="none" stroke="#111" stroke-width="1.4"/>
<path d="M504 225.9 C504.2 224.8 504.2 221.6 505.3 219.7 C506.3 217.9 508.6 216.1 510.2 214.8 C511.8 213.4 513.9 211.7 514.9 211.7 C515.8 211.7 516.3 213.3 515.7 214.5 C515.2 215.8 512.8 217.3 511.4 219.1 C510.1 220.9 508.3 224.2 507.7 225.3" fill="none" stroke="#111" stroke-width="1.8"/>
<path d="M507.7 224.6 C508.2 223.8 509.5 221.1 510.8 219.7 C512.1 218.3 514.7 216.2 515.7 216 C516.8 215.8 517.4 217.5 517 218.5 C516.5 219.5 514.4 221 513.3 222.2 C512.1 223.3 510.7 224.7 510.2 225.3" fill="none" stroke="#222" stroke-width="1.5"/>
<path d="M506.5 221.6 C507.2 220.7 509.5 218 510.8 216.6 C512.1 215.3 513.9 214.1 514.5 213.6" fill="none" stroke="#333" stroke-width="1.2"/>
<ellipse cx="565.3" cy="254.2" rx="14.2" ry="8.9" fill="#fff" stroke="#222" stroke-width="1.2"/>
<path d="M551.1 251.5 L551.1 254.2" fill="none" stroke="#222" stroke-width="1.2"/>
<path d="M579.4 251.5 L579.4 254.2" fill="none" stroke="#222" stroke-width="1.2"/>
<ellipse cx="565.3" cy="251.5" rx="14.2" ry="8.9" fill="#fff" stroke="#111" stroke-width="1.3"/>
<ellipse cx="565.6" cy="251.1" rx="9.4" ry="5.2" fill="none" stroke="#333" stroke-width="1.3" stroke-dasharray="1.6 1.1"/>
<ellipse cx="565.6" cy="251.5" rx="6.8" ry="3.4" fill="none" stroke="#777" stroke-width="1"/>
<path d="M563.8 245.8 L567.2 246.1" fill="none" stroke="#111" stroke-width="2.2"/>
<path d="M564.4 256.9 L566.9 256.9" fill="none" stroke="#444" stroke-width="1.6"/>
<path d="M555.2 249.9 L557 253" fill="none" stroke="#555" stroke-width="1.6"/>
<path d="M573.6 249.3 L576.1 252.7" fill="none" stroke="#555" stroke-width="1.6"/>
<path d="M507.7 201.3 C507.4 200.7 506 200.5 507.4 199.2 C508.7 197.9 513.1 195.2 515.7 193.5 C518.4 191.8 521.2 189.7 523.1 189 C525.1 188.2 526.4 188.3 527.4 189 C528.5 189.6 530.1 191.2 529.3 192.6 C528.5 194.1 525.2 195.8 522.5 197.6 C519.8 199.3 515.5 202.2 513.3 203.1 C511.1 204 510.2 203.2 509.3 202.9 C508.4 202.6 508 201.9 507.7 201.3Z" fill="none" stroke="#666" stroke-width="1"/>
<path d="M529 193.5 L534.2 197.6 L537.9 197 L558.8 193 L564.4 192.3" fill="none" stroke="#444" stroke-width="1.2"/>
<path d="M549 194.9 L561.3 192.6" fill="none" stroke="#333" stroke-width="1.6"/>
<path d="M555.4 178.5 L555.4 189.6 L565.6 190.2 L565.6 178.5Z" fill="#fff" stroke="#444" stroke-width="1.1"/>
<path d="M557 180.3 L557 189 L561.3 189.3 L561.3 180.3Z" fill="#aaa" stroke="#888" stroke-width="0.6"/>
<ellipse cx="561.1" cy="174.2" rx="5.9" ry="3.7" fill="#fff" stroke="#222" stroke-width="1.4"/>
<ellipse cx="561.3" cy="173.6" rx="3.4" ry="2" fill="none" stroke="#333" stroke-width="1.2"/>
<path d="M555.2 177.2 L567.5 178.2" fill="none" stroke="#222" stroke-width="1.6"/>
<path d="M552.4 175.4 L555.4 178.5" fill="none" stroke="#333" stroke-width="1.4"/>
<path d="M558.2 170.5 L564.4 169.9" fill="none" stroke="#222" stroke-width="1.4"/>
<path d="M560.1 192.3 L569.7 192.3 L568.1 194.7 L563.8 194.7Z" fill="#333" stroke="#111" stroke-width="1"/>
<ellipse cx="559.8" cy="201.9" rx="7.1" ry="3.1" fill="none" stroke="#222" stroke-width="2.2"/>
<ellipse cx="559.8" cy="201.6" rx="4.4" ry="1.6" fill="none" stroke="#444" stroke-width="1"/>
<path d="M553.3 205.8 L566.2 205.8" fill="none" stroke="#999" stroke-width="0.8"/>
<path d="M564.9 176.5 C566.6 176.7 571.5 176.9 574.8 178.1 C578.1 179.3 580.9 181.3 584.6 183.6 C588.3 186 592.9 189 597 192.2 C601.1 195.5 605.2 199.4 609.3 203.3 C613.4 207.2 618.3 212.6 621.6 215.7 C624.9 218.7 626.1 220.1 629 221.8 C631.9 223.5 637.2 225.1 638.8 225.8" fill="none" stroke="#555" stroke-width="2.3" stroke-linecap="butt"/>
<path d="M564.9 176.5 C566.6 176.7 571.5 176.9 574.8 178.1 C578.1 179.3 580.9 181.3 584.6 183.6 C588.3 186 592.9 189 597 192.2 C601.1 195.5 605.2 199.4 609.3 203.3 C613.4 207.2 618.3 212.6 621.6 215.7 C624.9 218.7 626.1 220.1 629 221.8 C631.9 223.5 637.2 225.1 638.8 225.8" fill="none" stroke="#fff" stroke-width="0.9" stroke-linecap="butt"/>
<path d="M638.8 227.4 L644.8 225.1 L654.2 231.9 L648.9 236 L644 235.4 L639.5 229.8Z" fill="#fff" stroke="#222" stroke-width="1.1"/>
<path d="M641.9 228 L646.9 234.1" fill="none" stroke="#333" stroke-width="1.2"/>
<path d="M645 226.1 L651.2 232.9" fill="none" stroke="#444" stroke-width="1.2"/>
<path d="M646.2 235.4 L648.7 232.9 L652.4 232.9" fill="none" stroke="#222" stroke-width="1.4"/>
<path d="M636.4 224.3 L639.5 226.7" fill="none" stroke="#222" stroke-width="2.4"/>
<path d="M654.2 231.9 L656.1 233.1" fill="none" stroke="#666" stroke-width="1"/>
<path d="M504.7 300.4 L546.6 300.8" fill="none" stroke="#222" stroke-width="1.2"/>
<path d="M504.7 306.7 L546.6 307.1" fill="none" stroke="#222" stroke-width="1.2"/>
<path d="M504.7 300.4 C504.5 300.7 503.7 301.3 503.5 302 C503.3 302.8 503.3 304.3 503.5 305.1 C503.7 305.9 504.5 306.4 504.7 306.7" fill="none" stroke="#222" stroke-width="1.3"/>
<path d="M546.6 300.8 C546.8 301 547.8 301.5 548.1 302.3 C548.3 303.1 548.3 304.9 548.1 305.7 C547.8 306.5 546.8 306.9 546.6 307.1" fill="none" stroke="#111" stroke-width="2.2"/>
<path d="M515.4 300.6 L515.4 306.7" fill="none" stroke="#222" stroke-width="1.6"/>
<path d="M530.8 300.8 L531.1 307" fill="none" stroke="#222" stroke-width="2"/>
<path d="M516.4 305.7 L530 306" fill="none" stroke="#999" stroke-width="0.8"/>
<path d="M545.4 301.4 L545.6 306.7" fill="none" stroke="#222" stroke-width="1.6"/>
<ellipse cx="499.8" cy="304" rx="1.4" ry="3.3" fill="#fff" stroke="#222" stroke-width="1.6"/>
<ellipse cx="499.8" cy="304.2" rx="0.5" ry="1.7" fill="none" stroke="#666" stroke-width="1"/>
<ellipse cx="551.5" cy="305.7" rx="1.7" ry="3.7" fill="#fff" stroke="#222" stroke-width="1.6"/>
<ellipse cx="551.7" cy="306.3" rx="0.7" ry="2" fill="none" stroke="#666" stroke-width="1"/>
<path d="M549.7 303 L553.4 302.3" fill="none" stroke="#222" stroke-width="1.4"/>
<path d="M494.6 304.2 L494.6 313.4 L518.3 313.4 L518.3 315.3 L510.6 320.9" fill="none" stroke="#888" stroke-width="0.9"/>
<path d="M557.1 306 L557.1 313.4 L540.4 313.4 L540.4 315.3 L550 318.4" fill="none" stroke="#888" stroke-width="0.9"/>
<path d="M494.6 304.2 L497.9 304.2" fill="none" stroke="#888" stroke-width="0.9"/>
<path d="M553.5 305.7 L557.1 305.7" fill="none" stroke="#888" stroke-width="0.9"/>
<ellipse cx="550.3" cy="284.9" rx="2.7" ry="2.5" fill="#333" stroke="#111" stroke-width="1"/>
<ellipse cx="550" cy="284.7" rx="1.1" ry="0.9" fill="#999" stroke="#ccc" stroke-width="0.8"/>
<path d="M549.2 287.1 L549.4 289.8 L551.4 289.8 L551.5 287.1Z" fill="#444" stroke="#111" stroke-width="1"/>
<ellipse cx="587.9" cy="285.8" rx="2.7" ry="2.5" fill="#333" stroke="#111" stroke-width="1"/>
<ellipse cx="587.6" cy="285.5" rx="1.1" ry="0.9" fill="#999" stroke="#ccc" stroke-width="0.8"/>
<path d="M586.8 288 L587 290.7 L589 290.7 L589.1 288Z" fill="#444" stroke="#111" stroke-width="1"/>
<ellipse cx="426.3" cy="357" rx="2.7" ry="2.5" fill="#333" stroke="#111" stroke-width="1"/>
<ellipse cx="426.1" cy="356.8" rx="1.1" ry="0.9" fill="#999" stroke="#ccc" stroke-width="0.8"/>
<path d="M425.2 359.2 L425.4 361.9 L427.4 361.9 L427.5 359.2Z" fill="#444" stroke="#111" stroke-width="1"/>
<path d="M596.5 319.1 L602.3 315.8 L605.6 320 L599.8 323.3Z" fill="#eee" stroke="#444" stroke-width="1"/>
<path d="M598 320.5 L603 317.8" fill="none" stroke="#999" stroke-width="0.7"/>
<path d="M600 323.4 L605.6 320.2" fill="none" stroke="#222" stroke-width="1.5"/>
<path d="M482.3 460.9 C481.8 460.7 480.7 460 479.6 459.7 C478.4 459.5 476.5 459.3 475.3 459.5 C474 459.7 472.6 460.3 471.9 460.9 C471.2 461.6 470.8 462.6 470.9 463.4 C471.1 464.2 471.6 465.1 472.8 465.6 C474 466.1 476.7 466.5 478.3 466.5 C480 466.5 481.9 465.8 482.6 465.6" fill="none" stroke="#222" stroke-width="1.3"/>
<path d="M513.8 457.2 C514.4 456.9 515.9 455.4 517.1 455 C518.4 454.6 520.3 454.6 521.5 454.8 C522.6 455 523.7 455.6 524.3 456.3 C524.9 456.9 525.2 457.9 524.9 458.7 C524.6 459.5 523.9 460.5 522.7 460.9 C521.5 461.4 519.2 461.2 517.8 461.7 C516.3 462.2 514.7 463.6 514.1 464" fill="none" stroke="#222" stroke-width="1.3"/>
<path d="M482.6 465.3 C482.9 466.4 483.2 470.1 483.9 472 C484.6 474 485.4 475.5 487 477 C488.5 478.4 491.1 479.8 493.1 480.7 C495.2 481.5 497.2 481.9 499.3 481.9 C501.3 481.9 503.6 481.4 505.4 480.7 C507.3 479.9 509.1 479 510.4 477.6 C511.6 476.1 512.2 474.2 512.8 472 C513.4 469.9 513.9 465.9 514.1 464.6" fill="#fff" stroke="#222" stroke-width="1.4"/>
<ellipse cx="498" cy="459.1" rx="16.3" ry="7.6" fill="#fff" stroke="#111" stroke-width="1.8"/>
<ellipse cx="498" cy="459.7" rx="14.8" ry="6.4" fill="none" stroke="#666" stroke-width="0.8"/>
<path d="M488.2 469.3 C489 468.7 491.3 466.7 493.1 465.9 C495 465.1 497.2 464.6 499.3 464.6 C501.3 464.7 503.5 465.3 505.4 466.1 C507.4 467 510.1 469.2 511 469.8" fill="none" stroke="#111" stroke-width="2"/>
<path d="M487 473.9 C487.8 474.4 489.8 476.2 491.9 477 C493.9 477.7 497 478.2 499.3 478.2 C501.5 478.2 503.5 477.8 505.4 477.2 C507.4 476.6 510.1 474.9 511 474.5" fill="none" stroke="#444" stroke-width="1.1"/>
<path d="M493.7 469.8 L493.7 480.7 L497.7 482.1 L498 470.8Z" fill="#fff" stroke="#111" stroke-width="1.5"/>
<path d="M506.9 469.8 L506.9 479.7 L510.4 480.2 L510.4 469.8Z" fill="#fff" stroke="#111" stroke-width="1.5"/>
<path d="M495.8 470.8 L495.8 481.3" fill="none" stroke="#777" stroke-width="0.8"/>
<path d="M508.6 470.8 L508.6 479.7" fill="none" stroke="#777" stroke-width="0.8"/>
<ellipse cx="476.2" cy="462.8" rx="1.5" ry="0.9" fill="none" stroke="#222" stroke-width="1.2"/>
<ellipse cx="519.4" cy="458" rx="1.6" ry="1" fill="#555" stroke="#111" stroke-width="1.4"/>
<path d="M476.5 475.7 L476.5 479.1 L479.2 479.1 L479.2 475.7Z" fill="#333" stroke="#111" stroke-width="1"/>
<ellipse cx="477.7" cy="481.5" rx="3" ry="2.5" fill="#ccc" stroke="#111" stroke-width="1.4"/>
<ellipse cx="477.7" cy="481.8" rx="1.2" ry="1.1" fill="none" stroke="#333" stroke-width="1"/>
<path d="M518.4 469.6 L518.4 472.9 L521.1 472.9 L521.1 469.6Z" fill="#333" stroke="#111" stroke-width="1"/>
<ellipse cx="519.6" cy="475.4" rx="3" ry="2.5" fill="#ccc" stroke="#111" stroke-width="1.4"/>
<ellipse cx="519.6" cy="475.6" rx="1.2" ry="1.1" fill="none" stroke="#333" stroke-width="1"/>
<path d="M321.1 446.1 L324.8 442.4 L328.9 448.5 L326.1 452.2Z" fill="#fff" stroke="#111" stroke-width="1.2"/>
<path d="M324.6 448.1 L327.3 451.2" fill="none" stroke="#777" stroke-width="3"/>
<ellipse cx="332.1" cy="442.3" rx="7.3" ry="6" fill="none" stroke="#111" stroke-width="1.8" transform="rotate(-35 332.1 442.3)"/>
<ellipse cx="331.8" cy="442.6" rx="5.2" ry="3.8" fill="#fff" stroke="#222" stroke-width="1.1" transform="rotate(-35 331.8 442.6)"/>
<path d="M326.6 438.2 C327.1 437.9 328.6 436.6 329.6 436.1 C330.7 435.6 331.7 435.4 332.7 435.4 C333.8 435.4 335.3 436 335.8 436.1" fill="none" stroke="#111" stroke-width="1.6"/>
<path d="M334 436.4 L337.7 438.2" fill="none" stroke="#111" stroke-width="2.5"/>
<path d="M329.6 448.7 L334.6 448.3" fill="none" stroke="#111" stroke-width="2.2"/>
<rect x="630.9" y="128.1" width="17.6" height="17.4" fill="#e9e9e9"/>
<path d="M648.5 127.1h1.2v19.8h-19.8v-1.4h18.6z" fill="#707070"/>
<rect x="463.8" y="164.2" width="17.6" height="17.4" fill="#e9e9e9"/>
<path d="M481.4 163.2h1.2v19.8h-19.8v-1.4h18.6z" fill="#707070"/>
<rect x="385.6" y="212" width="17.6" height="17.4" fill="#e9e9e9"/>
<path d="M403.2 211h1.2v19.8h-19.8v-1.4h18.6z" fill="#707070"/>
<rect x="587.6" y="221.6" width="17.6" height="17.4" fill="#e9e9e9"/>
<path d="M605.2 220.6h1.2v19.8h-19.8v-1.4h18.6z" fill="#707070"/>
<rect x="450.8" y="242" width="17.6" height="17.4" fill="#e9e9e9"/>
<path d="M468.4 241h1.2v19.8h-19.8v-1.4h18.6z" fill="#707070"/>
<rect x="385.6" y="253.6" width="17.6" height="17.4" fill="#e9e9e9"/>
<path d="M403.2 252.6h1.2v19.8h-19.8v-1.4h18.6z" fill="#707070"/>
<rect x="450.8" y="266" width="17.6" height="17.4" fill="#e9e9e9"/>
<path d="M468.4 265h1.2v19.8h-19.8v-1.4h18.6z" fill="#707070"/>
<rect x="650.8" y="263" width="17.6" height="17.4" fill="#e9e9e9"/>
<path d="M668.4 262h1.2v19.8h-19.8v-1.4h18.6z" fill="#707070"/>
<rect x="500.8" y="255" width="17.6" height="17.4" fill="#e9e9e9"/>
<path d="M518.4 254h1.2v19.8h-19.8v-1.4h18.6z" fill="#707070"/>
<rect x="385.6" y="282" width="17.6" height="17.4" fill="#e9e9e9"/>
<path d="M403.2 281h1.2v19.8h-19.8v-1.4h18.6z" fill="#707070"/>
<rect x="488.6" y="276" width="17.6" height="17.4" fill="#e9e9e9"/>
<path d="M506.2 275h1.2v19.8h-19.8v-1.4h18.6z" fill="#707070"/>
<rect x="521.2" y="277.6" width="17.6" height="17.4" fill="#e9e9e9"/>
<path d="M538.8 276.6h1.2v19.8h-19.8v-1.4h18.6z" fill="#707070"/>
<rect x="563.6" y="293.2" width="17.6" height="17.4" fill="#e9e9e9"/>
<path d="M581.2 292.2h1.2v19.8h-19.8v-1.4h18.6z" fill="#707070"/>
<rect x="629.6" y="282" width="17.6" height="17.4" fill="#e9e9e9"/>
<path d="M647.2 281h1.2v19.8h-19.8v-1.4h18.6z" fill="#707070"/>
<rect x="242.8" y="258" width="17.6" height="17.4" fill="#e9e9e9"/>
<path d="M260.4 257h1.2v19.8h-19.8v-1.4h18.6z" fill="#707070"/>
<rect x="354.7" y="299.2" width="17.6" height="17.4" fill="#e9e9e9"/>
<path d="M372.3 298.2h1.2v19.8h-19.8v-1.4h18.6z" fill="#707070"/>
<rect x="201.8" y="313.8" width="17.6" height="17.4" fill="#e9e9e9"/>
<path d="M219.4 312.8h1.2v19.8h-19.8v-1.4h18.6z" fill="#707070"/>
<rect x="625.6" y="324" width="17.6" height="17.4" fill="#e9e9e9"/>
<path d="M643.2 323h1.2v19.8h-19.8v-1.4h18.6z" fill="#707070"/>
<rect x="297.7" y="343" width="17.6" height="17.4" fill="#e9e9e9"/>
<path d="M315.3 342h1.2v19.8h-19.8v-1.4h18.6z" fill="#707070"/>
<rect x="393.2" y="349" width="17.6" height="17.4" fill="#e9e9e9"/>
<path d="M410.8 348h1.2v19.8h-19.8v-1.4h18.6z" fill="#707070"/>
<rect x="355.8" y="368" width="17.6" height="17.4" fill="#e9e9e9"/>
<path d="M373.4 367h1.2v19.8h-19.8v-1.4h18.6z" fill="#707070"/>
<rect x="287.6" y="413" width="17.6" height="17.4" fill="#e9e9e9"/>
<path d="M305.2 412h1.2v19.8h-19.8v-1.4h18.6z" fill="#707070"/>
<rect x="402.8" y="458.6" width="17.6" height="17.4" fill="#e9e9e9"/>
<path d="M420.4 457.6h1.2v19.8h-19.8v-1.4h18.6z" fill="#707070"/>
<rect x="327.6" y="463.6" width="17.6" height="17.4" fill="#e9e9e9"/>
<path d="M345.2 462.6h1.2v19.8h-19.8v-1.4h18.6z" fill="#707070"/>
<rect x="535.6" y="452" width="17.6" height="17.4" fill="#e9e9e9"/>
<path d="M553.2 451h1.2v19.8h-19.8v-1.4h18.6z" fill="#707070"/>
<rect x="440.6" y="473" width="17.6" height="17.4" fill="#e9e9e9"/>
<path d="M458.2 472h1.2v19.8h-19.8v-1.4h18.6z" fill="#707070"/>
<rect x="558.8" y="466" width="17.6" height="17.4" fill="#e9e9e9"/>
<path d="M576.4 465h1.2v19.8h-19.8v-1.4h18.6z" fill="#707070"/>
<g class="lb">
<text x="640.4" y="142" class="n">12</text>
<text x="473.3" y="178.1" class="n">8</text>
<text x="395.1" y="225.9" class="n">7</text>
<text x="597.1" y="235.5" class="n">11</text>
<text x="460.3" y="255.9" class="n">15</text>
<text x="395.1" y="267.5" class="n">9</text>
<text x="460.3" y="279.9" class="n">15</text>
<text x="660.3" y="276.9" class="n">5</text>
<text x="510.3" y="268.9" class="n">16</text>
<text x="395.1" y="295.9" class="n">6</text>
<text x="498.1" y="289.9" class="n">3</text>
<text x="530.7" y="291.5" class="n">19</text>
<text x="573.1" y="307.1" class="n">3</text>
<text x="639.1" y="295.9" class="n">19</text>
<text x="252.3" y="271.9" class="n">15</text>
<text x="364.2" y="313.1" class="n">1</text>
<text x="211.3" y="327.7" class="n">18</text>
<text x="635.1" y="337.9" class="n">4</text>
<text x="307.2" y="356.9" class="n">14</text>
<text x="402.7" y="362.9" class="n">19</text>
<text x="365.3" y="381.9" class="n">17</text>
<text x="297.1" y="426.9" class="n">15</text>
<text x="412.3" y="472.5" class="n">14</text>
<text x="337.1" y="477.5" class="n">10</text>
<text x="545.1" y="465.9" class="n">2</text>
<text x="450.1" y="486.9" class="n">13</text>
<text x="568.3" y="479.9" class="n">13</text>
</g>
</svg>
</body></html>
